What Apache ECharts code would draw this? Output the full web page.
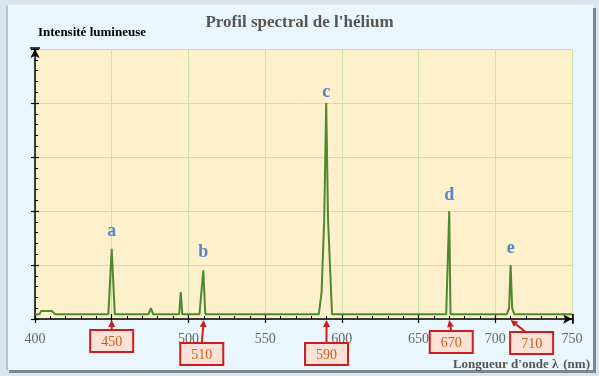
<!DOCTYPE html>
<html><head><meta charset="utf-8">
<script src="https://cdn.jsdelivr.net/npm/echarts@6/dist/echarts.min.js"></script>
<style>
html,body{margin:0;padding:0;width:599px;height:376px;overflow:hidden;background:#dbe4ee;}
#panel{position:absolute;left:6px;top:5px;width:585px;height:364px;background:#eaf6fd;border-left:2px solid #b8c4d0;border-top:1px solid #f4f9fc;box-shadow:3px 3px 0 #7f858c;}
#chart{position:absolute;left:0;top:0;width:599px;height:376px;}
</style></head>
<body><div id="panel"></div><div id="chart"></div>
<script>
// Spectrum (wavelength nm, relative intensity)
const waveX = [400, 403, 404, 411, 413, 447.8, 450, 452, 474, 475.5, 477, 494, 495, 496, 507.2, 509.7, 511, 585, 586.8, 588.5, 589.8, 591, 593.6, 668, 670, 670.8, 707.6, 709, 710, 711, 712.4, 750];
const intensity = [0.09, 0.09, 0.15, 0.15, 0.09, 0.09, 1.3, 0.09, 0.09, 0.2, 0.09, 0.09, 0.5, 0.09, 0.09, 0.9, 0.09, 0.09, 0.5, 1.84, 4.0, 1.84, 0.09, 0.09, 2.0, 0.09, 0.09, 0.2, 1.0, 0.2, 0.09, 0.09];
// Peak letters
const peakLetters = ['a', 'b', 'c', 'd', 'e'];
const peakX = [450, 509.7, 589.8, 670, 710];
const peakY = [1.3, 0.9, 4.0, 2.0, 1.0];
// Callouts
const calloutValues = [450, 510, 590, 670, 710];
const calloutLabels = ['450', '510', '590', '670', '710'];
// Axis ticks
const xTicks = [400, 450, 500, 550, 600, 650, 700, 750];

// [box dx, box dy, arrow-base dx from box centre]
const calloutLayout = [[0, 11, 0], [-2, 24, 0], [0, 24, 0], [2, 12, 0], [21, 13, -6]];
const labelDist = [8, 9, 2, 7, 8];

const serif = '"Liberation Serif", "DejaVu Serif", serif';
const chart = echarts.init(document.getElementById('chart'), null, {renderer: 'canvas'});

chart.setOption({
  animation: false,
  backgroundColor: 'transparent',
  title: [
    {text: "Profil spectral de l'hélium", left: 'center', top: 9,
     textStyle: {fontFamily: serif, fontWeight: 'bold', fontSize: 17, color: '#555'}},
    {text: "{b|Longueur d'onde λ} {n|(nm)}", right: 4, top: 351,
     textStyle: {rich: {
       b: {fontFamily: serif, fontWeight: 'bold', fontSize: 13, color: '#555'},
       n: {fontFamily: serif, fontSize: 13, color: '#555'}}}}
  ],
  grid: {left: 35, right: 27, top: 49, bottom: 57, show: true, backgroundColor: '#fdf0ca', borderWidth: 0},
  xAxis: [
    {type: 'value', position: 'bottom', min: 400, max: 750, interval: 50,
     axisLine: {show: true, onZero: false, symbol: ['none', 'arrow'], symbolSize: [7, 9], lineStyle: {color: '#000', width: 1.5}},
     axisTick: {show: true, inside: true, length: 5, lineStyle: {color: '#000', width: 1.2}},
     minorTick: {show: true, splitNumber: 5, length: 3, lineStyle: {color: '#000', width: 1}},
     splitLine: {show: true, lineStyle: {color: '#cfe0a6', width: 1}},
     axisLabel: {margin: 13, fontFamily: serif, fontSize: 14, color: '#666',
       customValues: xTicks, formatter: v => String(v)}},
    {type: 'value', position: 'bottom', min: 400, max: 750, interval: 50,
     axisLine: {show: false, onZero: false}, axisLabel: {show: false}, splitLine: {show: false},
     axisTick: {show: true, inside: false, length: 4, lineStyle: {color: '#000', width: 1.2}}}
  ],
  yAxis: [
    {type: 'value', position: 'left', min: 0, max: 5, interval: 1,
     name: 'Intensité lumineuse', nameLocation: 'end', nameGap: 10,
     nameTextStyle: {fontFamily: serif, fontWeight: 'bold', fontSize: 13, color: '#000', align: 'left', verticalAlign: 'bottom', padding: [0, 0, 0, 3]},
     axisLine: {show: true, onZero: false, symbol: ['none', 'arrow'], symbolSize: [7, 9], lineStyle: {color: '#000', width: 1.5}},
     axisTick: {show: true, inside: true, length: 4, lineStyle: {color: '#000', width: 1.2}},
     minorTick: {show: true, splitNumber: 5, length: 3, lineStyle: {color: '#000', width: 1}},
     splitLine: {show: true, lineStyle: {color: '#cfe0a6', width: 1}},
     axisLabel: {show: false}},
    {type: 'value', position: 'left', min: 0, max: 5, interval: 1,
     axisLine: {show: false, onZero: false}, axisLabel: {show: false}, splitLine: {show: false},
     axisTick: {show: true, inside: false, length: 4, lineStyle: {color: '#000', width: 1.2}}}
  ],
  series: [
    {type: 'line', xAxisIndex: 0, yAxisIndex: 0, showSymbol: false, symbol: 'none',
     data: waveX.map((x, i) => [x, intensity[i]]),
     lineStyle: {color: '#4c8a30', width: 2}, z: 5},
    {type: 'scatter', symbolSize: 0, xAxisIndex: 0, yAxisIndex: 0,
     data: peakX.map((x, i) => ({value: [x, peakY[i]], label: {distance: labelDist[i]}})),
     label: {show: true, position: 'top', formatter: p => peakLetters[p.dataIndex],
       fontFamily: serif, fontWeight: 'bold', fontSize: 18, color: '#3066d2'}, z: 6},
    {type: 'custom', xAxisIndex: 0, yAxisIndex: 0, clip: false, z: 10,
     data: calloutValues.map((v, i) => [v, 0, i]),
     renderItem: function (params, api) {
       const i = api.value(2);
       const p = api.coord([api.value(0), 0]);
       const ax = p[0], ay = p[1] + 1;
       const dx = calloutLayout[i][0], dy = calloutLayout[i][1], adx = calloutLayout[i][2];
       const bw = 43, bh = 22;
       const bx = ax + dx, by = ay - 1 + dy;
       const tipX = ax, tipY = ay;
       const baseXp = bx + adx, baseYp = by;
       const ang = Math.atan2(tipY - baseYp, tipX - baseXp);
       const hl = 7, hw = 3.5;
       const cx = tipX - hl * Math.cos(ang), cy = tipY - hl * Math.sin(ang);
       const nx = -Math.sin(ang), ny = Math.cos(ang);
       return {type: 'group', children: [
         {type: 'line', shape: {x1: baseXp, y1: baseYp, x2: cx, y2: cy}, style: {stroke: '#cc1e1e', lineWidth: 2}},
         {type: 'polygon', shape: {points: [[tipX, tipY], [cx + nx * hw, cy + ny * hw], [cx - nx * hw, cy - ny * hw]]}, style: {fill: '#cc1e1e'}},
         {type: 'rect', shape: {x: bx - bw / 2, y: by, width: bw, height: bh}, style: {fill: '#fbe1d6', stroke: '#cc1e1e', lineWidth: 2}},
         {type: 'text', style: {x: bx, y: by + bh / 2 + 1, text: calloutLabels[i], align: 'center', verticalAlign: 'middle',
           font: '14px ' + serif, fill: '#c85f1c'}}
       ]};
     }}
  ]
});

// end bars of axes
const o = chart.convertToPixel({gridIndex: 0}, [750, 0]);
const t = chart.convertToPixel({gridIndex: 0}, [400, 5]);
chart.setOption({graphic: [
  {type: 'line', shape: {x1: o[0] + 1, y1: o[1] - 5, x2: o[0] + 1, y2: o[1] + 5}, style: {stroke: '#000', lineWidth: 1.5}, z: 20},
  {type: 'line', shape: {x1: t[0] - 5, y1: t[1] - 1, x2: t[0] + 5, y2: t[1] - 1}, style: {stroke: '#000', lineWidth: 1.5}, z: 20}
]});
</script></body></html>
